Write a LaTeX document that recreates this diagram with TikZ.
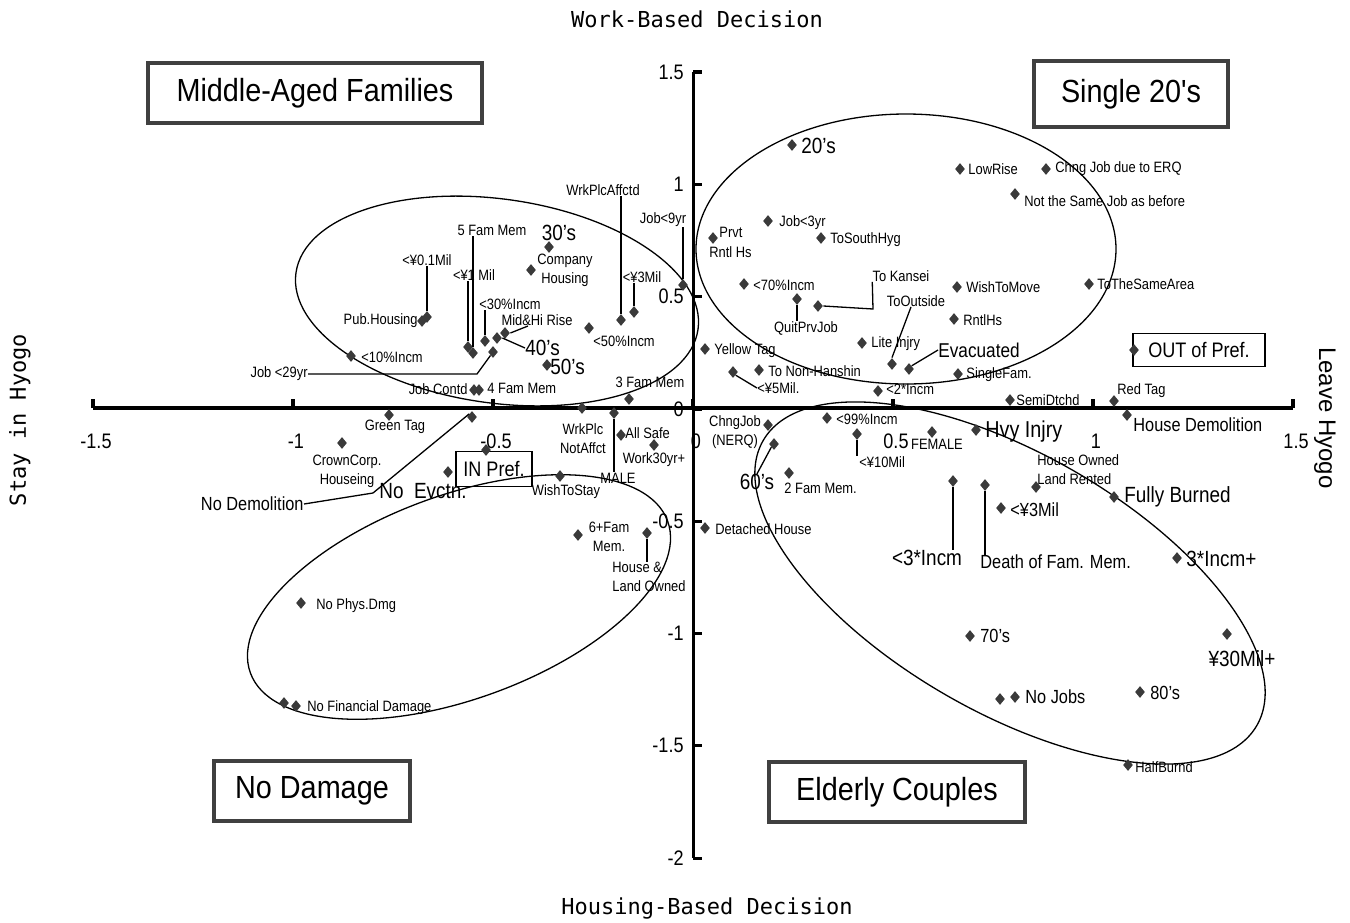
\documentclass[tikz,border=0pt]{standalone}
\usepackage{fontspec}
\setmainfont{Liberation Sans}[FakeStretch=0.86]
\newfontfamily\ttlfont{Liberation Sans}[FakeStretch=0.9]
\newfontfamily\sidefont{Liberation Sans}
\newfontfamily\axfont{DejaVu Sans Mono}
\usepackage{tikz}
\usetikzlibrary{shapes.geometric}
\definecolor{mkG}{RGB}{58,58,58}
\definecolor{boxG}{RGB}{64,64,64}
\tikzset{
  mk/.style={diamond, fill=mkG, inner sep=0pt, minimum width=5pt, minimum height=6pt},
  lbs/.style={inner sep=0pt, align=center, font=\fontsize{7.5}{9.5}\selectfont},
  lbm/.style={inner sep=0pt, font=\fontsize{9.5}{11}\selectfont},
  lbb/.style={inner sep=0pt, font=\fontsize{11}{13}\selectfont},
  grp/.style={draw=boxG, line width=2pt, fill=white, inner sep=0pt, font=\ttlfont\fontsize{16}{19}\selectfont},
  prefbox/.style={draw, line width=0.6pt, inner sep=0pt, font=\fontsize{10.5}{12}\selectfont},
  tk/.style={inner sep=0pt, font=\fontsize{10.5}{12}\selectfont},
  axt/.style={inner sep=0pt, font=\axfont\fontsize{11}{13}\selectfont},
  lead/.style={line width=0.65pt},
  oval/.style={line width=0.65pt}
}
\begin{document}
\begin{tikzpicture}[x=0.5pt, y=-0.5pt]
\useasboundingbox (0,0) rectangle (1350,922);
% ===== cluster ellipses =====
\draw[oval, rotate around={-8:(497,301)}] (497,301) ellipse [x radius=203, y radius=102];
\draw[oval] (906,249) ellipse [x radius=210, y radius=135];
\draw[oval, rotate around={20:(459,597)}] (459,597) ellipse [x radius=222, y radius=102];
\draw[oval, rotate around={-30:(1010,583)}] (1010,583) ellipse [x radius=285, y radius=129];
% ===== axes and ticks =====
\draw[line width=2pt] (93,408) -- (1293,408);
\draw[line width=1.5pt] (693,72) -- (693,858);
\foreach \tx/\tl [count=\i] in {93/-1.5,293/-1,493/-0.5,693/0,893/0.5,1093/1,1293/1.5} {
  \draw[line width=1.6pt] (\tx,408) -- (\tx,399);
  \node[tk] (xt\i) at (\tx+3,441) {\tl};
}
\foreach \ty/\tl [count=\i] in {72/1.5,184.3/1,296.6/0.5,408.9/0,521.2/-0.5,633.5/-1,745.8/-1.5,858.1/-2} {
  \draw[line width=1.6pt] (693,\ty) -- (702,\ty);
  \node[tk, anchor=east] (yt\i) at (684,\ty) {\tl};
}
% ===== axis titles =====
\node[axt] (tWork) at (697,19) {Work-Based Decision};
\node[axt] (tHous) at (707,908) {Housing-Based Decision};
\node[axt, rotate=90] (tStay) at (20,420) {Stay in Hyogo};
\node[inner sep=0pt, font=\sidefont\fontsize{12}{14}\selectfont, rotate=-90] (tLeave) at (1325,418) {Leave Hyogo};
% ===== group boxes =====
\node[grp, minimum width=167pt, minimum height=30pt] (tMid) at (315,93) {Middle-Aged Families};
\node[grp, minimum width=97pt, minimum height=33pt] (tSingle) at (1131,94) {Single 20's};
\node[grp, minimum width=98pt, minimum height=30pt] (tNoDam) at (312,791) {No Damage};
\node[grp, minimum width=128pt, minimum height=30pt] (tElder) at (897,792) {Elderly Couples};
% ===== labels: upper left =====
\node[lbb] (l30s) at (559,233) {30's};
\node[lbs] (lComp) at (565,270) {Company\\Housing};
\node[lbs] (l5Fam) at (492,230) {5 Fam Mem};
\node[lbs] (l01Mil) at (427,260) {<¥0.1Mil};
\node[lbs, anchor=east] (lPubHs) at (418,321) {Pub.Housing};
\node[lbs] (l1Mil) at (474,275) {<¥1 Mil};
\node[lbs] (l30Inc) at (510,304) {<30\%Incm};
\node[lbs] (lMidHi) at (537,320) {Mid\&Hi Rise};
\node[lbb, anchor=west] (l40s) at (525,348) {40's};
\node[lbb, anchor=west] (l50s) at (550,367) {50's};
\node[lbs, anchor=west] (l10Inc) at (361,357) {<10\%Incm};
\node[lbs, anchor=east] (lJob29) at (308,374) {Job <29yr};
\node[lbs, anchor=east] (lJobCt) at (468,389) {Job Contd};
\node[lbs, anchor=west] (l4Fam) at (487,388) {4 Fam Mem};
\node[lbs, anchor=west] (l50Inc) at (593,341) {<50\%Incm};
\node[lbs] (l3MilA) at (642,277) {<¥3Mil};
\node[lbs] (lWrkAf) at (603,190) {WrkPlcAffctd};
\node[lbs] (lJob9) at (663,220) {Job<9yr};
\node[lbs] (l3Fam) at (650,382) {3 Fam Mem};
% ===== labels: upper right =====
\node[lbb, anchor=west] (l20s) at (801,146) {20's};
\node[lbs, anchor=west] (lLowR) at (968,169) {LowRise};
\node[lbs, anchor=west] (lChngJ) at (1055,169) {Chng Job due to ERQ};
\node[lbs, anchor=west] (lNotSm) at (1024,201) {Not the Same Job as before};
\node[lbs, anchor=west] (lJob3) at (779,223) {Job<3yr};
\node[lbs, anchor=west] (lPrvt) at (719,232) {Prvt};
\node[lbs, anchor=west] (lPrvt2) at (709,252) {Rntl Hs};
\node[lbs, anchor=west] (lSouth) at (830,240) {ToSouthHyg};
\node[lbs, anchor=west] (l70Inc) at (753,285) {<70\%Incm};
\node[lbs] (lKansei) at (901,276) {To Kansei};
\node[lbs] (lQuit) at (806,328) {QuitPrvJob};
\node[lbs] (lOutsd) at (916,301) {ToOutside};
\node[lbs, anchor=west] (lWish) at (966,287) {WishToMove};
\node[lbs, anchor=west] (lSameA) at (1097,284) {ToTheSameArea};
\node[lbs, anchor=west] (lRntl) at (963,320) {RntlHs};
\node[lbs, anchor=west] (lLite) at (871,344) {Lite Injry};
\node[lbm, font=\fontsize{10}{12}\selectfont, anchor=west] (lEvac) at (938,350) {Evacuated};
\node[lbs, anchor=west] (lYelT) at (714,351) {Yellow Tag};
\node[lbs, anchor=west] (lNonH) at (768,371) {To Non-Hanshin};
\node[lbs, anchor=west] (l5Mil) at (757,388) {<¥5Mil.};
\node[lbs, anchor=west] (l2Inc) at (886,389) {<2*Incm};
\node[lbs, anchor=west] (lSingF) at (966,375) {SingleFam.};
\node[lbs, anchor=west] (lSemiD) at (1016,400) {SemiDtchd};
\node[lbs, anchor=west] (lRedT) at (1117,391) {Red Tag};
\node[prefbox, minimum width=66pt, minimum height=16.5pt] (lOut) at (1199,350) {OUT of Pref.};
% ===== labels: lower right =====
\node[lbs] (lChngN) at (735,432) {ChngJob\\(NERQ)};
\node[lbb] (l60s) at (757,482) {60's};
\node[lbs, anchor=west] (l2Fam) at (784,488) {2 Fam Mem.};
\node[lbs, anchor=west] (l99Inc) at (836,419) {<99\%Incm};
\node[lbs, anchor=west] (l10Mil) at (859,462) {<¥10Mil};
\node[lbs] (lFem) at (937,444) {FEMALE};
\node[lbb, font=\fontsize{11.5}{13}\selectfont, anchor=west] (lHvy) at (985,432) {Hvy Injry};
\node[lbm, anchor=west] (lDemo) at (1133,425) {House Demolition};
\node[lbs, align=left, anchor=west] (lOwnR) at (1037,470) {House Owned\\Land Rented};
\node[lbb, anchor=west] (lFully) at (1124,497) {Fully Burned};
\node[lbb] (l3Inc) at (927,558) {<3*Incm};
\node[lbm, anchor=west] (lDeath) at (980,562) {Death of Fam. Mem.};
\node[lbm, anchor=west] (l3MilB) at (1010,510) {<¥3Mil};
\node[lbb, anchor=west] (l3IncP) at (1186,559) {3*Incm+};
\node[lbs, anchor=west] (lDetH) at (715,529) {Detached House};
\node[lbm, anchor=west] (l70s) at (980,636) {70's};
\node[lbb] (l30MilP) at (1242,659) {¥30Mil+};
\node[lbm, anchor=west] (lNoJob) at (1025,697) {No Jobs};
\node[lbm, anchor=west] (l80s) at (1150,693) {80's};
\node[lbs, anchor=west] (lHalfB) at (1135,767) {HalfBurnd};
% ===== labels: lower left =====
\node[lbs] (lGreen) at (395,427) {Green Tag};
\node[lbs] (lCrown) at (347,471) {CrownCorp.\\Houseing};
\node[lbm, anchor=east] (lNoDemo) at (304,504) {No Demolition};
\node[lbb] (lNoEvc) at (423,491) {No\ \ Evctn.};
\node[prefbox, minimum width=38pt, minimum height=17.5pt] (lIn) at (494,469) {IN Pref.};
\node[lbs] (lStay) at (566,492) {WishToStay};
\node[lbs] (lNotAf) at (583,439) {WrkPlc\\NotAffct};
\node[lbs] (lMale) at (618,478) {MALE};
\node[lbs, anchor=west] (lSafe) at (625,433) {All Safe};
\node[lbs] (lWork30) at (654,460) {Work30yr+};
\node[lbs] (l6Fam) at (609,537) {6+Fam\\Mem.};
\node[lbs, align=left, anchor=west] (lOwnL) at (612,577) {House \&\\Land Owned};
\node[lbs, anchor=west] (lNoPhy) at (316,606) {No Phys.Dmg};
\node[lbs, anchor=west] (lNoFin) at (307,708) {No Financial Damage};
% ===== category points =====
\foreach \n/\px/\py in {m30s/549/247, mComp/531/270, m01Mil/427/317, mPubHs/422/321,
  m1Mil/468/347, m5Fam/473/353, m30Inc/485/341, m40s/497/338, mMidHi/505/333,
  mJob29/493/352, m50s/547/365, m10Inc/351/356, mJobCt/474/390, m4Fam/479/390,
  m50Inc/589/328, mWrkAf/621/320, m3MilA/634/312, mJob9/683/285, m3Fam/629/399,
  m20s/792/145, mLowR/960/169, mChngJ/1046/169, mNotSm/1015/194, mJob3/768/221,
  mPrvt/713/238, mSouth/821/238, m70Inc/744/284, mKansei/818/306, mQuit/797/299,
  mOutsd/892/364, mWish/957/287, mSameA/1089/284, mRntl/954/319, mLite/862/343,
  mEvac/909/369, mYelT/705/349, mNonH/759/370, m5Mil/733/372, m2Inc/878/391,
  mSingF/958/374, mSemiD/1010/400, mRedT/1114/401, mOut/1134/350,
  mChngN/768/425, m60s/774/444, m2Fam/789/473, m99Inc/827/418, m10Mil/857/434,
  mFem/932/432, mHvy/976/430, mDemo/1127/415, mOwnR/1036/487, mFully/1114/497,
  m3Inc/953/481, mDeath/985/485, m3MilB/1001/508, m3IncP/1177/558, mDetH/705/528,
  m70s/970/636, m30MilP/1227/634, mNoJobA/1000/699, mNoJobB/1015/697, m80s/1140/692,
  mHalfB/1128/765, mGreen/389/415, mCrown/342/443, mNoDemo/472/417, mNoEvc/448/472,
  mIn/486/450, mStay/560/476, mNotAf/582/408, mMale/614/413, mSafe/621/435,
  mWork30/654/445, m6Fam/578/535, mOwnL/647/533, mNoPhy/301/603,
  mNoFinA/284/703, mNoFinB/296/706}
  \node[mk] (\n) at (\px,\py) {};
% ===== leader lines =====
\coordinate (cMidHi) at (528,326);
\coordinate (cJob29) at (477,374);
\coordinate (cKan) at (873,309);
\coordinate (cNoDemo) at (373,493);
\draw[lead] (m5Fam.north) -- (m5Fam.north |- l5Fam.south);
\draw[lead] (m01Mil.north) -- (m01Mil.north |- l01Mil.south);
\draw[lead] (m1Mil.north) -- (m1Mil.north |- l1Mil.south);
\draw[lead] (m30Inc.north) -- (m30Inc.north |- l30Inc.south);
\draw[lead] (mMidHi.east) -- (cMidHi);
\draw[lead] (m40s.east) -- (l40s.west);
\draw[lead] (lJob29.east) -- (cJob29) -- (mJob29);
\draw[lead] (m3MilA.north) -- (m3MilA.north |- l3MilA.south);
\draw[lead] (mWrkAf.north) -- (mWrkAf.north |- lWrkAf.south);
\draw[lead] (mJob9.north) -- (mJob9.north |- lJob9.south);
\draw[lead] (mKansei.east) -- (cKan) -- (lKansei.south west);
\draw[lead] (mQuit.south) -- (mQuit.south |- lQuit.north);
\draw[lead] (mOutsd.north) -- ([xshift=-2.5pt]lOutsd.south);
\draw[lead] (mEvac.north east) -- (lEvac.west);
\draw[lead] (m5Mil.south east) -- (l5Mil.west);
\draw[lead] (m10Mil.south) -- (m10Mil.south |- l10Mil.north);
\draw[lead] (l60s.north) -- (m60s.south west);
\draw[lead] (m3Inc.south) -- (m3Inc.south |- l3Inc.north);
\draw[lead] (mDeath.south) -- (mDeath.south |- lDeath.north);
\draw[lead] (lNoDemo.east) -- (cNoDemo) -- (mNoDemo.north west);
\draw[lead] (mMale.south) -- (mMale.south |- lMale.north);
\draw[lead] (mOwnL.south) -- (mOwnL.south |- lOwnL.north);
\end{tikzpicture}
\end{document}
